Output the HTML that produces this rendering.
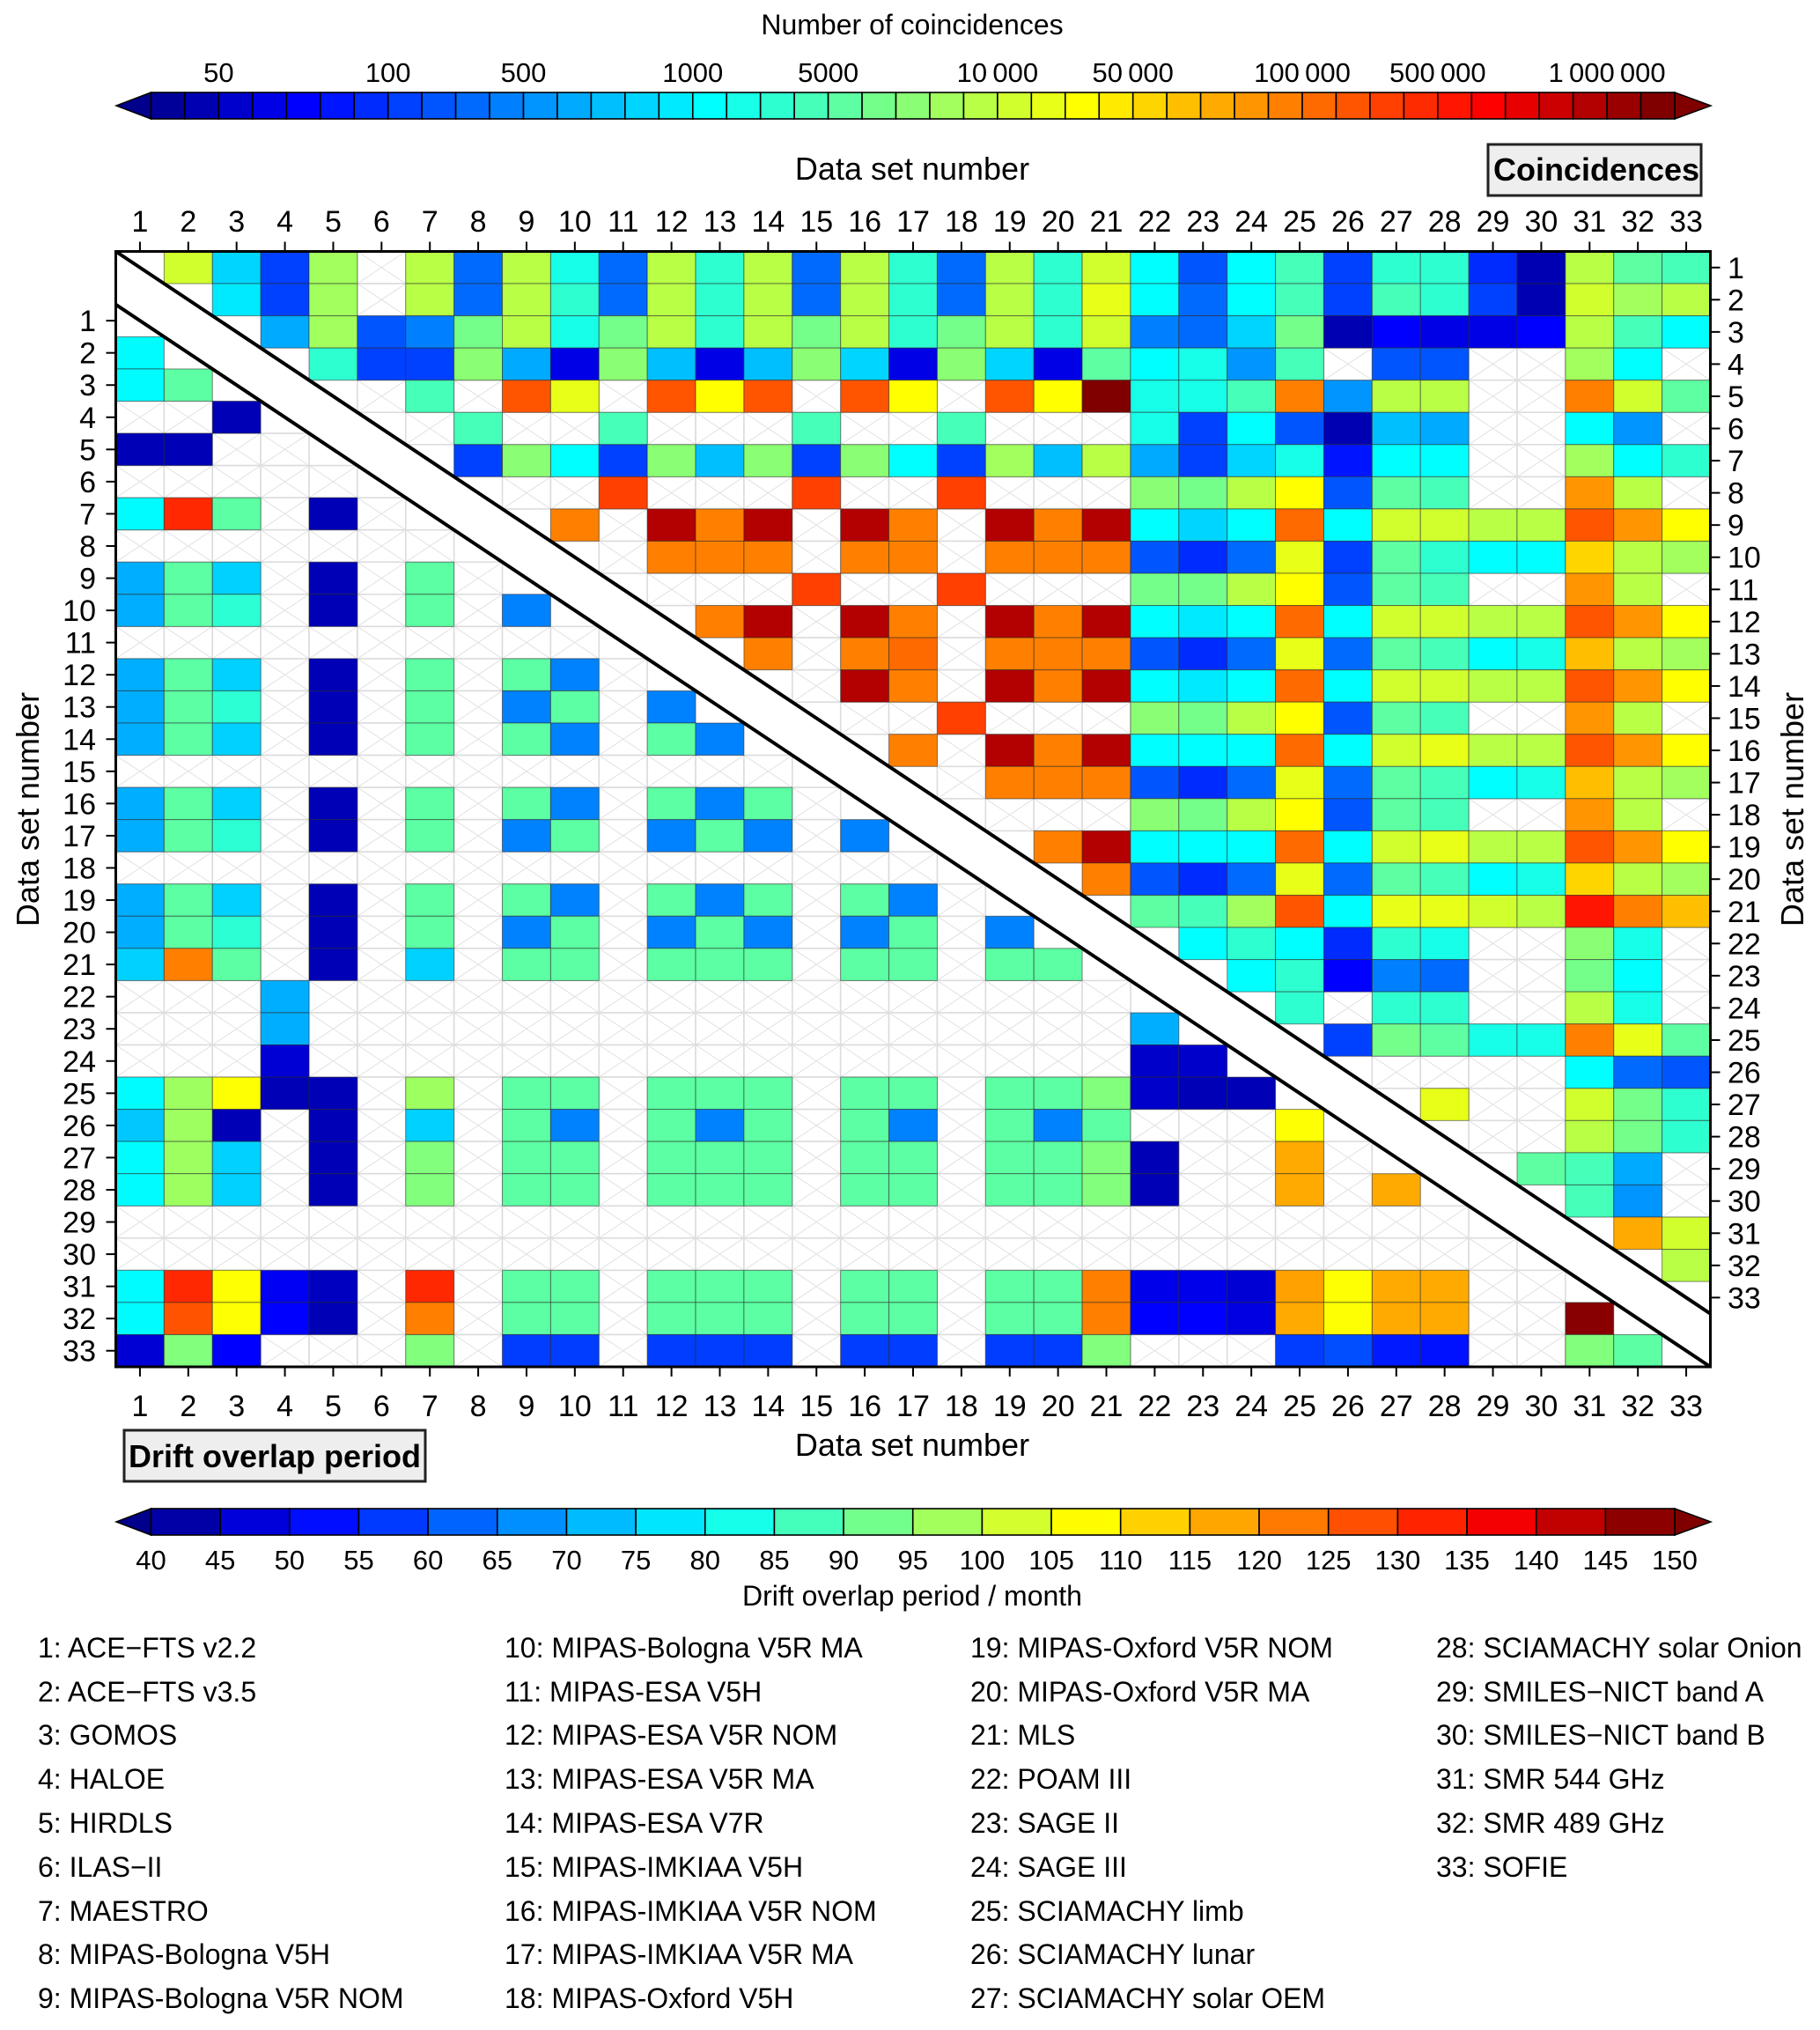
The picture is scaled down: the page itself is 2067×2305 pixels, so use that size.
<!DOCTYPE html>
<html lang="en">
<head>
<meta charset="utf-8">
<title>Coincidences and drift overlap period matrix</title>
<style>
html,body{margin:0;padding:0;background:#fff;}
svg{display:block;}
text{font-family:"Liberation Sans",Arial,sans-serif;fill:#000;}
</style>
</head>
<body>
<svg id="chart" xmlns="http://www.w3.org/2000/svg" width="2067" height="2305" viewBox="0 0 2067 2305">
  <rect x="0" y="0" width="2067" height="2305" fill="#fff"/>
  <g id="cells"></g>
  <g id="axes"></g>
  <g id="topbar"></g>
  <g id="botbar"></g>

  <text x="1036" y="39" font-size="32" text-anchor="middle">Number of coincidences</text>
  <text x="1036" y="204" font-size="36" text-anchor="middle">Data set number</text>
  <text x="1036" y="1653" font-size="36" text-anchor="middle">Data set number</text>
  <text transform="translate(44,919) rotate(-90)" font-size="36" text-anchor="middle">Data set number</text>
  <text transform="translate(2048,919) rotate(-90)" font-size="36" text-anchor="middle">Data set number</text>
  <text x="1036" y="1823" font-size="32" text-anchor="middle">Drift overlap period / month</text>

  <g>
    <rect x="1690" y="164" width="242" height="58" fill="#eeeeee" stroke="#222" stroke-width="3"/>
    <text x="1813" y="205" font-size="36" font-weight="bold" text-anchor="middle">Coincidences</text>
  </g>
  <g>
    <rect x="141" y="1624" width="342" height="58" fill="#eeeeee" stroke="#222" stroke-width="3"/>
    <text x="312" y="1666" font-size="36" font-weight="bold" text-anchor="middle">Drift overlap period</text>
  </g>

  <g font-size="32">
    <text x="43" y="1882">1: ACE&#8722;FTS v2.2</text>
    <text x="43" y="1932">2: ACE&#8722;FTS v3.5</text>
    <text x="43" y="1981">3: GOMOS</text>
    <text x="43" y="2031">4: HALOE</text>
    <text x="43" y="2081">5: HIRDLS</text>
    <text x="43" y="2131">6: ILAS&#8722;II</text>
    <text x="43" y="2181">7: MAESTRO</text>
    <text x="43" y="2230">8: MIPAS-Bologna V5H</text>
    <text x="43" y="2280">9: MIPAS-Bologna V5R NOM</text>
    <text x="573" y="1882">10: MIPAS-Bologna V5R MA</text>
    <text x="573" y="1932">11: MIPAS-ESA V5H</text>
    <text x="573" y="1981">12: MIPAS-ESA V5R NOM</text>
    <text x="573" y="2031">13: MIPAS-ESA V5R MA</text>
    <text x="573" y="2081">14: MIPAS-ESA V7R</text>
    <text x="573" y="2131">15: MIPAS-IMKIAA V5H</text>
    <text x="573" y="2181">16: MIPAS-IMKIAA V5R NOM</text>
    <text x="573" y="2230">17: MIPAS-IMKIAA V5R MA</text>
    <text x="573" y="2280">18: MIPAS-Oxford V5H</text>
    <text x="1102" y="1882">19: MIPAS-Oxford V5R NOM</text>
    <text x="1102" y="1932">20: MIPAS-Oxford V5R MA</text>
    <text x="1102" y="1981">21: MLS</text>
    <text x="1102" y="2031">22: POAM III</text>
    <text x="1102" y="2081">23: SAGE II</text>
    <text x="1102" y="2131">24: SAGE III</text>
    <text x="1102" y="2181">25: SCIAMACHY limb</text>
    <text x="1102" y="2230">26: SCIAMACHY lunar</text>
    <text x="1102" y="2280">27: SCIAMACHY solar OEM</text>
    <text x="1631" y="1882">28: SCIAMACHY solar Onion</text>
    <text x="1631" y="1932">29: SMILES&#8722;NICT band A</text>
    <text x="1631" y="1981">30: SMILES&#8722;NICT band B</text>
    <text x="1631" y="2031">31: SMR 544 GHz</text>
    <text x="1631" y="2081">32: SMR 489 GHz</text>
    <text x="1631" y="2131">33: SOFIE</text>
  </g>
</svg>
<script>
const N = null;

// Data set numbers along every matrix axis
const dataSetNumbers = [1,2,3,4,5,6,7,8,9,10,11,12,13,14,15,16,17,18,19,20,21,22,23,24,25,26,27,28,29,30,31,32,33];

// Upper triangle: colour level (0-44) of number of coincidences.
// Each row r lists columns r+1 .. 33. N = no coincidences.
const coincidenceLevels = [
 [25,14,7,23,N,24,9,24,17,9,24,18,24,9,24,18,9,24,18,25,16,8,16,19,7,18,18,6,1,24,20,19],
 [15,7,23,N,24,9,24,18,9,24,18,24,9,24,18,9,24,18,26,16,9,16,19,7,19,18,7,1,25,23,24],
 [12,23,8,10,21,24,17,21,24,18,24,21,24,18,21,24,18,25,10,9,14,21,1,4,3,3,4,24,19,16],
 [18,7,7,22,12,3,22,13,3,13,22,14,3,22,14,3,20,16,17,11,19,N,8,8,N,N,23,16,N],
 [N,19,N,35,26,N,35,27,35,N,35,27,N,35,27,44,17,17,19,33,11,24,24,N,N,33,25,20],
 [N,19,N,N,19,N,N,N,19,N,N,19,N,N,N,17,7,16,8,1,13,12,N,N,16,11,N],
 [7,22,16,7,22,13,22,7,22,16,7,23,13,24,12,7,14,17,5,16,16,N,N,23,16,18],
 [N,N,36,N,N,N,36,N,N,36,N,N,N,22,21,24,27,8,20,19,N,N,32,24,N],
 [33,N,42,33,42,N,42,33,N,42,33,42,16,14,16,34,16,25,25,24,24,35,32,27],
 [N,33,33,33,N,33,33,N,33,33,33,8,6,9,26,7,20,18,16,16,29,24,23],
 [N,N,N,36,N,N,36,N,N,N,21,21,24,27,8,20,19,N,N,32,24,N],
 [33,42,N,42,33,N,42,33,42,16,15,16,34,16,25,25,24,24,35,32,27],
 [33,N,33,34,N,33,33,33,8,6,9,26,9,20,19,16,17,30,24,23],
 [N,42,33,N,42,33,42,16,15,16,34,16,25,25,24,24,35,32,27],
 [N,N,36,N,N,N,22,21,24,27,8,20,19,N,N,32,24,N],
 [33,N,42,33,42,16,16,16,34,16,25,26,24,24,35,32,27],
 [N,33,33,33,8,6,9,26,9,20,19,16,17,30,24,23],
 [N,N,N,22,21,24,27,8,20,19,N,N,32,24,N],
 [33,42,16,16,16,34,16,25,26,24,24,35,32,27],
 [33,8,6,9,26,9,20,19,16,17,29,24,23],
 [20,19,23,35,16,26,26,25,24,38,33,30],
 [16,18,16,6,18,17,N,N,22,17,N],
 [16,18,4,10,9,N,N,21,16,N],
 [18,N,18,18,N,N,24,17,N],
 [7,21,20,17,17,33,26,20],
 [N,N,N,N,16,9,8],
 [26,N,N,25,21,18],
 [N,N,24,21,18],
 [20,19,12,N],
 [19,11,N],
 [31,25],
 [24],
 []
];

// Lower triangle: drift overlap period in months.
// Each row r lists columns 1 .. r-1. N = no overlap.
const driftMonths = [
 [],
 [80],
 [80,90],
 [N,N,44],
 [44,44,N,N],
 [N,N,N,N,N],
 [80,132,90,N,44,N],
 [N,N,N,N,N,N,N],
 [71,90,75,N,44,N,90,N],
 [71,90,85,N,44,N,90,N,66],
 [N,N,N,N,N,N,N,N,N,N],
 [71,90,75,N,44,N,90,N,90,66,N],
 [71,90,85,N,44,N,90,N,66,90,N,66],
 [71,90,75,N,44,N,90,N,90,66,N,90,66],
 [N,N,N,N,N,N,N,N,N,N,N,N,N,N],
 [71,90,75,N,44,N,90,N,90,66,N,90,66,90,N],
 [71,90,85,N,44,N,90,N,66,90,N,66,90,66,N,66],
 [N,N,N,N,N,N,N,N,N,N,N,N,N,N,N,N,N],
 [71,90,75,N,44,N,90,N,90,66,N,90,66,90,N,90,66,N],
 [71,90,85,N,44,N,90,N,66,90,N,66,90,66,N,66,90,N,66],
 [75,122,90,N,44,N,75,N,90,90,N,90,90,90,N,90,90,N,90,90],
 [N,N,N,71,N,N,N,N,N,N,N,N,N,N,N,N,N,N,N,N,N],
 [N,N,N,71,N,N,N,N,N,N,N,N,N,N,N,N,N,N,N,N,N,71],
 [N,N,N,47,N,N,N,N,N,N,N,N,N,N,N,N,N,N,N,N,N,46,46],
 [80,97,107,44,44,N,97,N,90,90,N,90,90,90,N,90,90,N,90,90,94,46,44,44],
 [74,97,44,N,44,N,75,N,90,66,N,90,66,90,N,90,66,N,90,66,90,N,N,N,107],
 [80,97,75,N,44,N,94,N,90,90,N,90,90,90,N,90,90,N,90,90,94,44,N,N,117,N],
 [80,97,75,N,44,N,94,N,90,90,N,90,90,90,N,90,90,N,90,90,94,44,N,N,117,N,117],
 [N,N,N,N,N,N,N,N,N,N,N,N,N,N,N,N,N,N,N,N,N,N,N,N,N,N,N,N],
 [N,N,N,N,N,N,N,N,N,N,N,N,N,N,N,N,N,N,N,N,N,N,N,N,N,N,N,N,N],
 [80,132,107,50,45,N,132,N,90,90,N,90,90,90,N,90,90,N,90,90,122,49,49,47,118,107,117,117,N,N],
 [80,127,107,51,44,N,122,N,90,90,N,90,90,90,N,90,90,N,90,90,122,51,51,48,117,107,117,117,N,N,148],
 [47,94,51,N,N,N,94,N,58,58,N,58,58,58,N,58,58,N,58,58,94,N,N,N,58,60,54,53,N,N,94,90]
];

// Colour bar ticks
const coincidenceTickLabels = ["50","100","500","1000","5000","10\u2009000","50\u2009000","100\u2009000","500\u2009000","1\u2009000\u2009000"];
const coincidenceTickLevels = [2,7,11,16,20,25,29,34,38,43];
const coincidenceLevelCount = 45;
const driftTicks = [40,45,50,55,60,65,70,75,80,85,90,95,100,105,110,115,120,125,130,135,140,145,150];

// ---- geometry and scales ----
const SVGNS = "http://www.w3.org/2000/svg";
const plotLeft = 131.5, plotRight = 1942.5, plotTop = 285.5, plotBottom = 1552;
const cellW = (plotRight - plotLeft) / dataSetNumbers.length;
const cellH = 36.55;
const barLeft = 171.5, barRight = 1902;

function xLeft(col){ return plotLeft + (col - 1) * cellW; }
function xCenter(col){ return xLeft(col) + cellW / 2; }
function yUpper(row){ return plotTop + (row - 1) * cellH; }
function yLower(row){ return plotBottom - (dataSetNumbers.length + 1 - row) * cellH; }

function levelColor(L){
  const stops = [[0,0,0,153],[4,0,0,255],[16,0,255,255],[27,255,255,0],[39,255,0,0],[44,128,0,0]];
  const v = Math.max(0, Math.min(44, L));
  for (let i = 1; i < stops.length; i++){
    if (v <= stops[i][0]){
      const a = stops[i-1], b = stops[i], t = (v - a[0]) / (b[0] - a[0]);
      const c = [1,2,3].map(k => Math.round(a[k] + (b[k] - a[k]) * t));
      return "rgb(" + c.join(",") + ")";
    }
  }
  return "rgb(128,0,0)";
}
function monthsColor(m){ return levelColor((m - 40) / 110 * coincidenceLevelCount - 0.5); }
function levelEdge(i){ return barLeft + i * (barRight - barLeft) / coincidenceLevelCount; }
function monthEdge(m){ return barLeft + (m - 40) / 110 * (barRight - barLeft); }

function svgEl(tag, parent){
  const e = document.createElementNS(SVGNS, tag);
  parent.appendChild(e);
  return e;
}
function setAll(e, attrs){
  for (const k in attrs) e.setAttribute(k, attrs[k]);
}

const cellsG = document.getElementById("cells");
const axesG = document.getElementById("axes");
const topG = document.getElementById("topbar");
const botG = document.getElementById("botbar");

function drawCell(x, y, value, color, name){
  if (value === null){
    const g = svgEl("g", cellsG);
    
    
    const r = svgEl("rect", g);
    setAll(r, {x:x, y:y, width:cellW, height:cellH, fill:"#fff", stroke:"#dcdcdc", "stroke-width":1.6});
    
    
    const p = svgEl("path", g);
    setAll(p, {d:"M"+x+" "+y+"L"+(x+cellW)+" "+(y+cellH)+"M"+(x+cellW)+" "+y+"L"+x+" "+(y+cellH), stroke:"#e2e2e2", "stroke-width":1, fill:"none"});
    
    
  } else {
    const r = svgEl("rect", cellsG);
    setAll(r, {x:x, y:y, width:cellW, height:cellH, fill:color, stroke:"rgba(40,40,40,0.55)", "stroke-width":1});
    
    
  }
}

// empties first so coloured cell borders sit above them
function drawMatrix(onlyEmpty){
  coincidenceLevels.forEach((row, ri) => {
    row.forEach((v, ci) => {
      if ((v === null) !== onlyEmpty) return;
      const r = ri + 1, c = r + 1 + ci;
      drawCell(xLeft(c), yUpper(r), v, v === null ? "" : levelColor(v), "coincidence-cell-" + r + "-" + c);
    });
  });
  driftMonths.forEach((row, ri) => {
    row.forEach((v, ci) => {
      if ((v === null) !== onlyEmpty) return;
      const r = ri + 1, c = ci + 1;
      drawCell(xLeft(c), yLower(r), v, v === null ? "" : monthsColor(v), "drift-cell-" + r + "-" + c);
    });
  });
}
drawMatrix(true);
drawMatrix(false);

// diagonal separators
const diagUpper = svgEl("line", axesG);
setAll(diagUpper, {x1:plotLeft, y1:plotTop, x2:plotRight, y2:yUpper(dataSetNumbers.length + 1), stroke:"#000", "stroke-width":4});


const diagLower = svgEl("line", axesG);
setAll(diagLower, {x1:plotLeft, y1:yLower(1), x2:plotRight, y2:plotBottom, stroke:"#000", "stroke-width":4});



// frame
const frame = svgEl("rect", axesG);
setAll(frame, {x:plotLeft, y:plotTop, width:plotRight - plotLeft, height:plotBottom - plotTop, fill:"none", stroke:"#000", "stroke-width":3});



function tick(x1, y1, x2, y2, name){
  const l = svgEl("line", axesG);
  setAll(l, {x1:x1, y1:y1, x2:x2, y2:y2, stroke:"#000", "stroke-width":2});
  
  
}
function label(parent, x, y, str, size, anchor, name){
  const t = svgEl("text", parent);
  setAll(t, {x:x, y:y, "font-size":size, "text-anchor":anchor});
  t.textContent = str;
  
  
}

dataSetNumbers.forEach(n => {
  const cx = xCenter(n);
  tick(cx, plotTop - 11, cx, plotTop, "top-tick-" + n);
  label(axesG, cx, 263, String(n), 34, "middle", "top-tick-label-" + n);
  tick(cx, plotBottom, cx, plotBottom + 11, "bottom-tick-" + n);
  label(axesG, cx, 1608, String(n), 34, "middle", "bottom-tick-label-" + n);
  const yl = yLower(n) + cellH / 2;
  tick(plotLeft - 11, yl, plotLeft, yl, "left-tick-" + n);
  label(axesG, 109, yl + 12, String(n), 34, "end", "left-tick-label-" + n);
  const yr = yUpper(n) + cellH / 2;
  tick(plotRight, yr, plotRight + 11, yr, "right-tick-" + n);
  label(axesG, 1962, yr + 12, String(n), 34, "start", "right-tick-label-" + n);
});

// colour bars
function drawBar(parent, y0, y1, segs, prefix){
  const mid = (y0 + y1) / 2;
  const la = svgEl("polygon", parent);
  setAll(la, {points:barLeft+","+y0+" 132,"+mid+" "+barLeft+","+y1, fill:"#00008c", stroke:"#000", "stroke-width":1.5});
  
  
  const ra = svgEl("polygon", parent);
  setAll(ra, {points:barRight+","+y0+" 1943,"+mid+" "+barRight+","+y1, fill:"#800000", stroke:"#000", "stroke-width":1.5});
  
  
  segs.forEach((s, i) => {
    const r = svgEl("rect", parent);
    setAll(r, {x:s.x0, y:y0, width:s.x1 - s.x0, height:y1 - y0, fill:s.color, stroke:"#000", "stroke-width":1.6});
    
    
  });
}

const topSegs = [];
for (let i = 0; i < coincidenceLevelCount; i++){
  topSegs.push({x0:levelEdge(i), x1:levelEdge(i + 1), color:levelColor(i)});
}
drawBar(topG, 105, 135, topSegs, "coincidence-bar");
coincidenceTickLabels.forEach((s, i) => {
  label(topG, levelEdge(coincidenceTickLevels[i]), 93, s, 31, "middle", "coincidence-bar-label-" + i);
});

const botSegs = [];
for (let i = 0; i + 1 < driftTicks.length; i++){
  botSegs.push({x0:monthEdge(driftTicks[i]), x1:monthEdge(driftTicks[i + 1]), color:monthsColor((driftTicks[i] + driftTicks[i + 1]) / 2)});
}
drawBar(botG, 1713, 1743, botSegs, "drift-bar");
driftTicks.forEach((m, i) => {
  label(botG, monthEdge(m), 1782, String(m), 31, "middle", "drift-bar-label-" + m);
});
</script>
</body>
</html>
